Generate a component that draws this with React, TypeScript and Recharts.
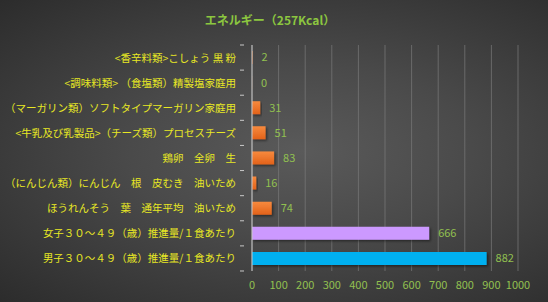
import React from 'react';
import { BarChart, Bar, XAxis, YAxis, CartesianGrid, Cell, LabelList } from 'recharts';

const categories = [
  '<香辛料類>こしょう 黒 粉',
  '<調味料類> （食塩類）精製塩家庭用',
  '（マーガリン類）ソフトタイプマーガリン家庭用',
  '<牛乳及び乳製品>（チーズ類）プロセスチーズ',
  '鶏卵　全卵　生',
  '（にんじん類）にんじん　根　皮むき　油いため',
  'ほうれんそう　葉　通年平均　油いため',
  '女子３０～４９（歳）推進量/１食あたり',
  '男子３０～４９（歳）推進量/１食あたり',
];
const energy = [2, 0, 31, 51, 83, 16, 74, 666, 882];
const barColors = [
  'url(#orangeGrad)', 'url(#orangeGrad)', 'url(#orangeGrad)', 'url(#orangeGrad)',
  'url(#orangeGrad)', 'url(#orangeGrad)', 'url(#orangeGrad)', '#cc99ff', '#00b0f0',
];
const xTicks = [0, 100, 200, 300, 400, 500, 600, 700, 800, 900, 1000];

const data = categories.map((name, i) => ({ name, value: energy[i] }));

const FONT = '"Noto Sans CJK JP", "Noto Sans", sans-serif';
const BAND = 25.1;

// Excel-style category tick: label plus boundary marks on the axis
const CategoryTick = ({ x, y, payload, index }: any) => (
  <g>
    <text x={x - 8} y={y} dy={4} textAnchor="end" fill="#e8e824" fontSize={10.5} fontFamily={FONT}>
      {payload.value}
    </text>
    <line x1={x - 4} x2={x} y1={y - BAND / 2} y2={y - BAND / 2} stroke="#c8c8c8" />
    {index === categories.length - 1 && (
      <line x1={x - 4} x2={x} y1={y + BAND / 2} y2={y + BAND / 2} stroke="#c8c8c8" />
    )}
  </g>
);

export default function App() {
  return (
    <div
      style={{
        position: 'absolute',
        left: 0,
        top: 0,
        width: 548,
        height: 302,
        background: 'radial-gradient(ellipse at 55% 50%, #5a5a5a 0%, #4a4a4a 40%, #2c2c2c 100%)',
        fontFamily: FONT,
      }}
    >
      <div
        style={{
          position: 'absolute',
          top: 11,
          left: 0,
          width: 540,
          textAlign: 'center',
          color: '#8cc63f',
          fontSize: 12,
          fontWeight: 'bold',
        }}
      >
        エネルギー（257Kcal）
      </div>
      <BarChart
        width={548}
        height={302}
        layout="vertical"
        data={data}
        margin={{ top: 45, right: 30, left: 0, bottom: 0 }}
      >
        <defs>
          <linearGradient id="orangeGrad" x1="0" y1="0" x2="0" y2="1">
            <stop offset="0%" stopColor="#f78a3e" />
            <stop offset="100%" stopColor="#e2621a" />
          </linearGradient>
          <filter id="barShadow" x="-10%" y="-30%" width="130%" height="180%">
            <feDropShadow dx="1.5" dy="1.5" stdDeviation="1" floodColor="#000" floodOpacity="0.45" />
          </filter>
        </defs>
        <CartesianGrid horizontal={false} vertical stroke="#7a7a7a" strokeOpacity={0.7} />
        <XAxis
          type="number"
          domain={[0, 1000]}
          ticks={xTicks}
          interval={0}
          axisLine={false}
          tickLine={false}
          height={31}
          tick={{ fill: '#92c050', fontSize: 11, fontFamily: FONT, dy: 2 }}
        />
        <YAxis
          type="category"
          dataKey="name"
          width={252}
          axisLine={{ stroke: '#c8c8c8' }}
          tickLine={false}
          interval={0}
          tick={(props: any) => <CategoryTick {...props} />}
        />
        <Bar dataKey="value" barSize={13} minPointSize={0.1} isAnimationActive={false}>
          {data.map((d, i) => (
            <Cell key={`c-${i}`} fill={barColors[i]} filter="url(#barShadow)" />
          ))}
          <LabelList
            dataKey="value"
            position="right"
            offset={9}
            fill="#92c050"
            fontSize={11}
            fontFamily={FONT}
          />
        </Bar>
      </BarChart>
    </div>
  );
}
